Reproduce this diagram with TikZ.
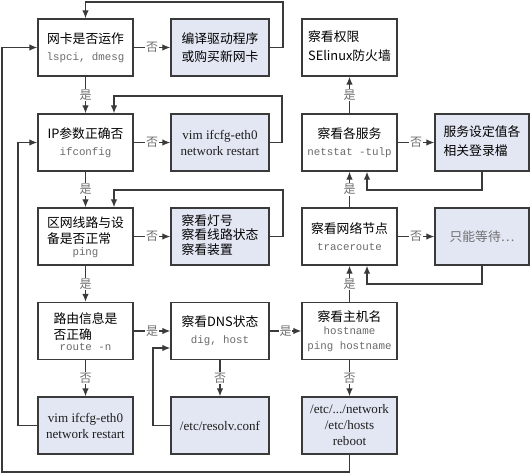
\documentclass[tikz,border=0pt]{standalone}
\usepackage{fontspec}
\setmainfont{Liberation Serif}
\newfontfamily\cjk{Noto Sans CJK SC}
\newfontfamily\monof{Liberation Mono}
\usetikzlibrary{arrows.meta}
\definecolor{linegray}{HTML}{3A3A3A}
\definecolor{bluefill}{HTML}{E3E7F3}
\definecolor{cmdgray}{HTML}{6A6A6A}
\definecolor{labgray}{HTML}{707070}
\newcommand\cmdtxt[1]{{\monof\fontsize{8.1}{12}\selectfont\color{cmdgray}#1}}
\newcommand\zh{\cjk\fontsize{9.6}{13}\selectfont}
\newcommand\en{\fontsize{9.8}{12}\selectfont\color{black!88}}
\newcommand\zl[1]{{\zh\begin{tabular}{@{}l@{}}#1\end{tabular}}}
\begin{document}
\begin{tikzpicture}[x=0.75pt,y=-0.75pt,
  boxbase/.style={draw=linegray, line width=1.1pt, inner sep=0pt, align=center, minimum height=42.75pt},
  wbox/.style={boxbase, fill=white},
  bbox/.style={boxbase, fill=bluefill},
  colA/.style={minimum width=71.25pt},
  colB/.style={minimum width=73.5pt},
  colC/.style={minimum width=71.25pt},
  colD/.style={minimum width=70.5pt},
  arr/.style={draw=linegray, line width=0.95pt, -{Latex[length=6pt,width=5pt]}},
  lab/.style={fill=white, inner sep=0.6pt, text=labgray, font=\cjk\fontsize{9}{9}\selectfont}]
\useasboundingbox (0,0) rectangle (530,474);

% column A
\node[wbox,colA] (n1) at (85.5,47.5) {{\zh 网卡是否运作}\\[1pt]\cmdtxt{lspci, dmesg}};
\node[wbox,colA] (n2) at (85.5,142.5) {{\zh IP参数正确否}\\[1pt]\cmdtxt{ifconfig}};
\node[wbox,colA] (n3) at (85.5,236.5) {\zl{区网线路与设\\[-1pt]备是否正常}\\[-2pt]\cmdtxt{ping}};
\node[wbox,colA] (n4) at (85.5,331) {\zl{路由信息是\\[-1pt]否正确}\\[-2pt]\cmdtxt{route -n}};
\node[bbox,colA] (n4b) at (85.5,425.5) {\en vim ifcfg-eth0\\\en network restart};

% column B
\node[bbox,colB] (n1b) at (220,47.5) {{\zh 编译驱动程序}\\[1pt]{\zh 或购买新网卡}};
\node[bbox,colB] (n2b) at (220,142.5) {\en vim ifcfg-eth0\\\en network restart};
\node[bbox,colB] (n3b) at (220,236.5) {\zl{察看灯号\\[-2pt]察看线路状态\\[-2pt]察看装置}};
\node[wbox,colB] (n5) at (220,331) {{\zh 察看DNS状态}\\[1pt]\cmdtxt{dig, host}};
\node[bbox,colB] (n5b) at (220,425.5) {\en /etc/resolv.conf};

% column C
\node[wbox,colC] (n9) at (349.5,47.5) {\zl{察看权限\\[1pt]SElinux防火墙}};
\node[wbox,colC] (n8) at (349.5,142.5) {{\zh 察看各服务}\\[1pt]\cmdtxt{netstat -tulp}};
\node[wbox,colC] (n7) at (349.5,236.5) {{\zh 察看网络节点}\\[1pt]\cmdtxt{traceroute}};
\node[wbox,colC] (n6) at (349.5,331) {{\zh 察看主机名}\\[-2pt]\cmdtxt{hostname}\\[-1pt]\cmdtxt{ping hostname}};
\node[bbox,colC] (n6b) at (349.5,425.5) {\en /etc/.../network\\\en /etc/hosts\\\en reboot};

% column D
\node[bbox,colD] (n8b) at (482,142.5) {\zl{服务设定值各\\[1pt]相关登录檔}};
\node[bbox,colD] (n7b) at (482,236.5) {{\zh\color{labgray}只能等待…}};

% main connectors
\draw[arr] (n1) -- node[lab]{否} (n1b);
\draw[arr] (n1) -- node[lab]{是} (n2);
\draw[arr] (n2) -- node[lab]{否} (n2b);
\draw[arr] (n2) -- node[lab]{是} (n3);
\draw[arr] (n3) -- node[lab]{否} (n3b);
\draw[arr] (n3) -- node[lab]{是} (n4);
\draw[arr] (n4) -- node[lab]{是} (n5);
\draw[arr] (n4) -- node[lab]{否} (n4b);
\draw[arr] (n5) -- node[lab]{是} (n6);
\draw[arr] (n5) -- node[lab]{否} (n5b);
\draw[arr] (n6) -- node[lab]{否} (n6b);
\draw[arr] (n6) -- node[lab]{是} (n7);
\draw[arr] (n7) -- node[lab]{否} (n7b);
\draw[arr] (n7) -- node[lab]{是} (n8);
\draw[arr] (n8) -- node[lab]{否} (n8b);
\draw[arr] (n8) -- node[lab]{是} (n9);

% loops
\coordinate (t1) at (283,2);
\draw[arr] (n1b.east) -| (t1) -| (n1.north);
\coordinate (t2) at (282,96);
\coordinate (e2) at (114,96);
\draw[arr] (n2b.east) -| (t2) -- (e2) -- (e2 |- n2.north);
\coordinate (t3) at (283,190);
\coordinate (e3) at (114,190);
\draw[arr] (n3b.east) -| (t3) -- (e3) -- (e3 |- n3.north);
\coordinate (l4) at (18,425.5);
\draw[arr] (n4b.west) -- (l4) |- (n2.west);
\coordinate (c5) at (153,348);
\draw[arr] (n5b.west) -| (c5) -- (c5 -| n5.west);
\coordinate (b1) at (2,472);
\draw[arr] (n6b.south) |- (b1) |- (n1.west);
\coordinate (t7) at (367,284);
\draw[arr] (n7b.south) |- (t7) -- (t7 |- n7.south);
\coordinate (t8) at (367,190);
\draw[arr] (n8b.south) |- (t8) -- (t8 |- n8.south);
\end{tikzpicture}
\end{document}
